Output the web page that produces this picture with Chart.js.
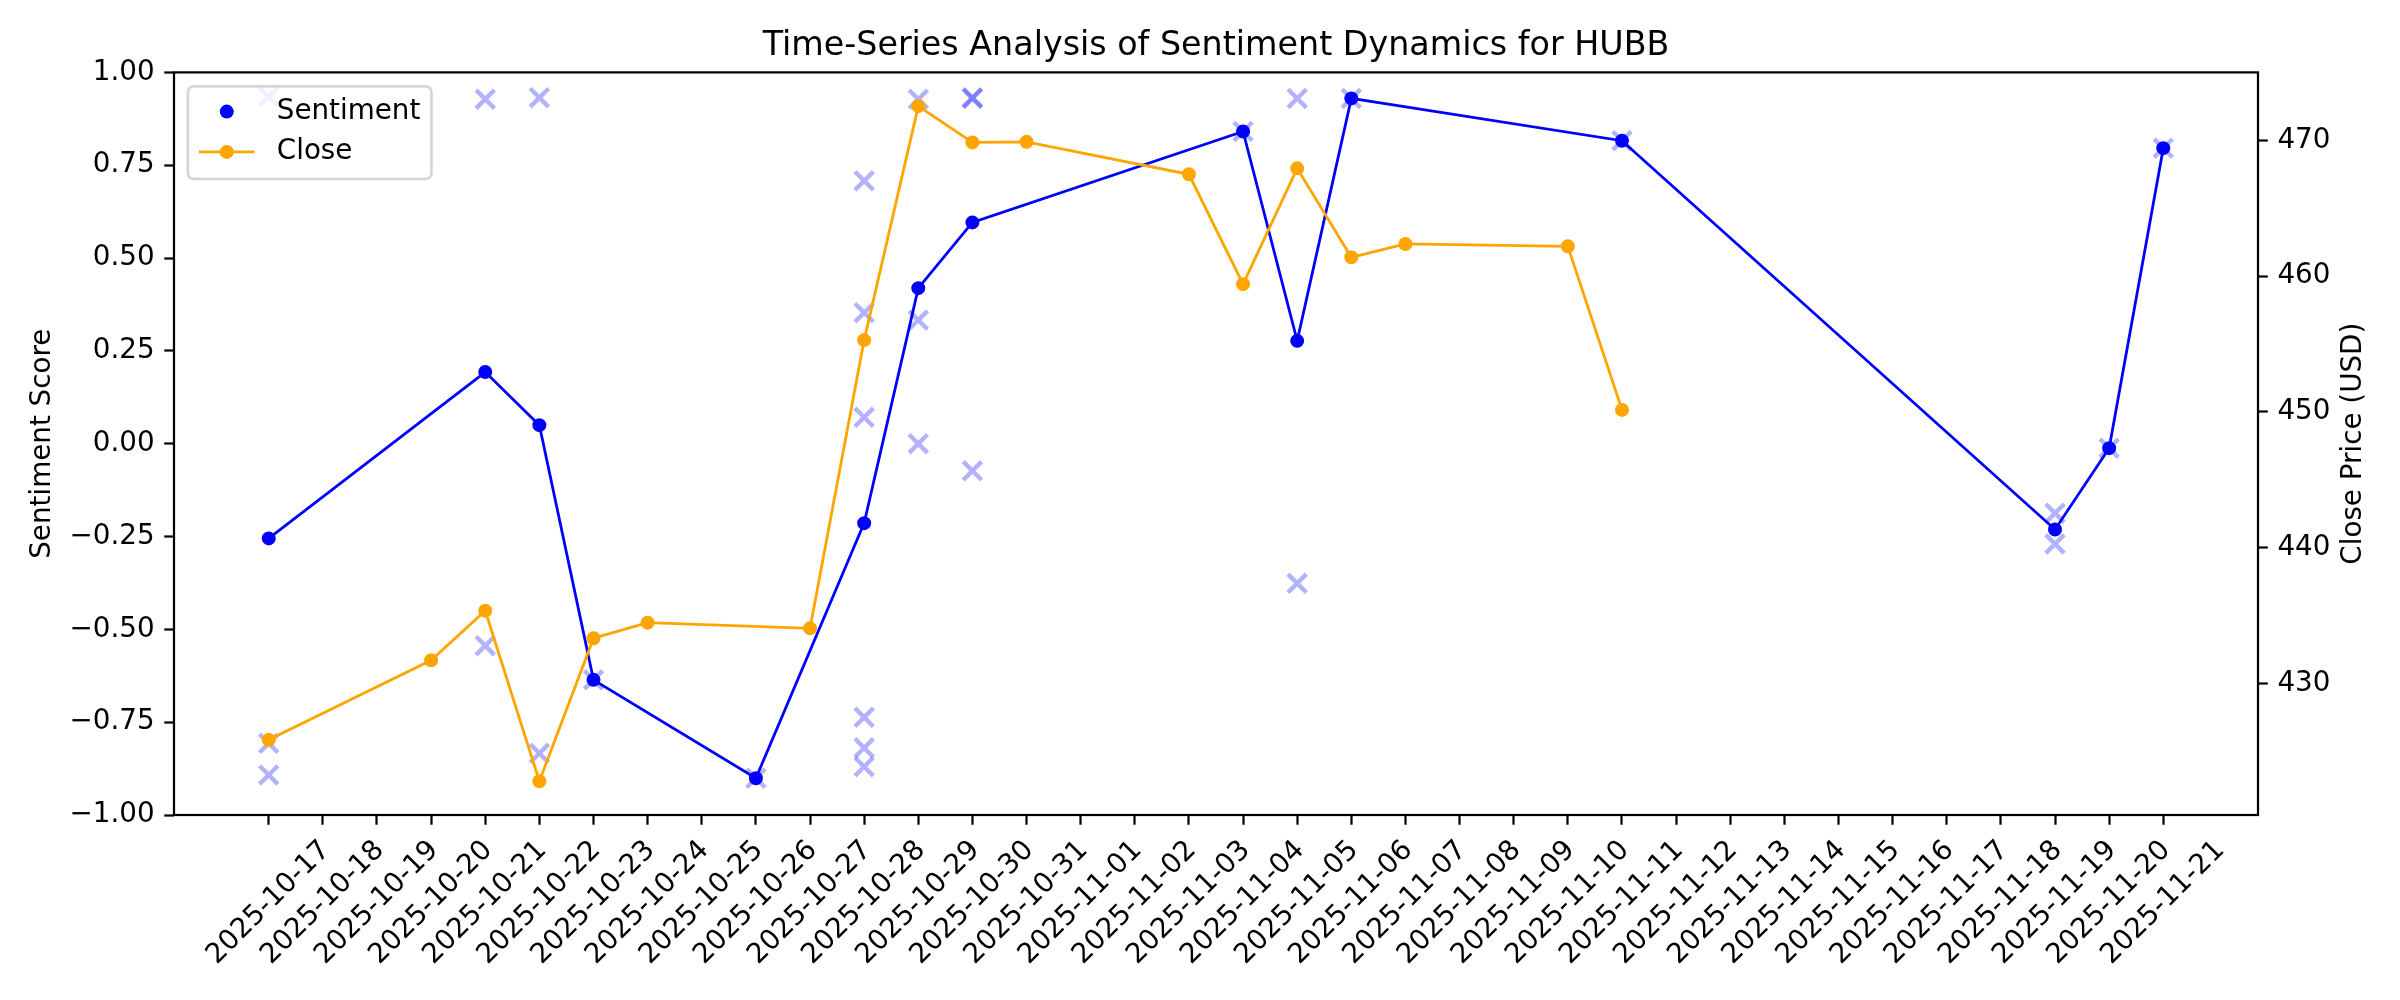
<!DOCTYPE html>
<html lang="en">
<head>
<meta charset="UTF-8">
<title>Sentiment Dynamics for HUBB</title>
<script src="https://cdn.jsdelivr.net/npm/chart.js"></script>
<style>
    body { margin: 0; background: #fff; }
    #wrap { width: 2400px; height: 1000px; }
</style>
</head>
<body>
<div id="wrap"><canvas id="sentChart" width="2400" height="1000"></canvas></div>
<script>
// tick labels for the date axis (one per day)
const dayLabels = [
    '2025-10-17', '2025-10-18', '2025-10-19', '2025-10-20', '2025-10-21', '2025-10-22',
    '2025-10-23', '2025-10-24', '2025-10-25', '2025-10-26', '2025-10-27', '2025-10-28',
    '2025-10-29', '2025-10-30', '2025-10-31', '2025-11-01', '2025-11-02', '2025-11-03',
    '2025-11-04', '2025-11-05', '2025-11-06', '2025-11-07', '2025-11-08', '2025-11-09',
    '2025-11-10', '2025-11-11', '2025-11-12', '2025-11-13', '2025-11-14', '2025-11-15',
    '2025-11-16', '2025-11-17', '2025-11-18', '2025-11-19', '2025-11-20', '2025-11-21'
];

// daily mean sentiment
const sentimentDates = ['2025-10-17', '2025-10-21', '2025-10-22', '2025-10-23', '2025-10-26', '2025-10-28',
    '2025-10-29', '2025-10-30', '2025-11-04', '2025-11-05', '2025-11-06', '2025-11-11',
    '2025-11-19', '2025-11-20', '2025-11-21'];
const sentimentMeans = [-0.255, 0.193, 0.050, -0.636, -0.901, -0.214,
    0.419, 0.596, 0.841, 0.277, 0.930, 0.816,
    -0.231, -0.012, 0.796];

// individual article scores
const rawDates = ['2025-10-17', '2025-10-17', '2025-10-17', '2025-10-21', '2025-10-21', '2025-10-22', '2025-10-22',
    '2025-10-23', '2025-10-26', '2025-10-28', '2025-10-28', '2025-10-28', '2025-10-28', '2025-10-28', '2025-10-28',
    '2025-10-29', '2025-10-29', '2025-10-29', '2025-10-30', '2025-10-30', '2025-10-30', '2025-11-04',
    '2025-11-05', '2025-11-05', '2025-11-06', '2025-11-11', '2025-11-19', '2025-11-19', '2025-11-20', '2025-11-21'];
const rawScores = [0.935, -0.807, -0.892, 0.928, -0.544, 0.932, -0.834,
    -0.636, -0.901, 0.708, 0.353, 0.071, -0.737, -0.819, -0.870,
    0.928, 0.333, 0.000, 0.930, 0.932, -0.073, 0.841,
    0.930, -0.376, 0.930, 0.816, -0.187, -0.270, -0.012, 0.796];

// closing price
const closeDates = ['2025-10-17', '2025-10-20', '2025-10-21', '2025-10-22', '2025-10-23', '2025-10-24',
    '2025-10-27', '2025-10-28', '2025-10-29', '2025-10-30', '2025-10-31', '2025-11-03',
    '2025-11-04', '2025-11-05', '2025-11-06', '2025-11-07', '2025-11-10', '2025-11-11'];
const closeValues = [425.85, 431.71, 435.36, 422.80, 433.33, 434.48,
    434.06, 455.29, 472.52, 469.85, 469.89, 467.50,
    459.41, 467.94, 461.39, 462.37, 462.20, 450.15];

const sentimentTicks = [-1, -0.75, -0.5, -0.25, 0, 0.25, 0.5, 0.75, 1];
const priceTicks = [430, 440, 450, 460, 470];

const PT = 200 / 72;           // pixels per point
const FS = 10 * PT;            // base font size
const FAMILY = '"DejaVu Sans", sans-serif';
const DOT = 7;                 // marker radius incl. edge

Chart.defaults.font.family = FAMILY;
Chart.defaults.color = '#000';

const toPoints = (dates, vals) => dates.map((d, i) => ({ x: dayLabels.indexOf(d), y: vals[i] }));

// axis limits with 5% margins like the original
const lastDay = dayLabels.length - 1;
const xPad = 0.05 * lastDay;
const pMin = Math.min(...closeValues), pMax = Math.max(...closeValues);
const pPad = 0.05 * (pMax - pMin);

const tickGrid = { drawOnChartArea: false, drawTicks: true, tickLength: 3.5 * PT, tickWidth: 0.8 * PT, tickColor: '#000' };

// frame, legend, rotated date labels, right axis title
const decor = {
    id: 'decor',
    afterDatasetsDraw(chart) {
        const ctx = chart.ctx, ca = chart.chartArea;
        ctx.save();
        ctx.strokeStyle = '#000';
        ctx.lineWidth = 0.8 * PT;
        ctx.strokeRect(ca.left, ca.top, ca.right - ca.left, ca.bottom - ca.top);

        // legend box
        ctx.font = FS + 'px ' + FAMILY;
        const tw = Math.max(ctx.measureText('Sentiment').width, ctx.measureText('Close').width);
        const bx = ca.left + 0.5 * FS, by = ca.top + 0.5 * FS;
        const bw = 0.4 * FS * 2 + 2 * FS + 0.8 * FS + tw, bh = 92.6;
        ctx.beginPath();
        ctx.roundRect(bx, by, bw, bh, 0.2 * FS);
        ctx.fillStyle = 'rgba(255,255,255,0.8)';
        ctx.fill();
        ctx.strokeStyle = 'rgba(204,204,204,0.8)';
        ctx.lineWidth = 1 * PT;
        ctx.stroke();

        const hx0 = bx + 0.4 * FS, hx1 = hx0 + 2 * FS, hc = (hx0 + hx1) / 2;
        const tx = hx1 + 0.8 * FS;
        const rows = [by + 25.3, by + 65.6];
        const ds = chart.data.datasets;
        // Sentiment: marker only
        ctx.fillStyle = ds[1].pointBackgroundColor;
        ctx.beginPath(); ctx.arc(hc, rows[0], DOT, 0, Math.PI * 2); ctx.fill();
        // Close: line + marker
        ctx.strokeStyle = ds[0].borderColor;
        ctx.lineWidth = ds[0].borderWidth;
        ctx.beginPath(); ctx.moveTo(hx0, rows[1]); ctx.lineTo(hx1, rows[1]); ctx.stroke();
        ctx.fillStyle = ds[0].pointBackgroundColor;
        ctx.beginPath(); ctx.arc(hc, rows[1], DOT, 0, Math.PI * 2); ctx.fill();

        ctx.fillStyle = '#000';
        ctx.textAlign = 'left';
        ctx.textBaseline = 'middle';
        ctx.fillText('Sentiment', tx, rows[0]);
        ctx.fillText('Close', tx, rows[1]);
        ctx.restore();
    },
    afterDraw(chart) {
        const ctx = chart.ctx, ca = chart.chartArea, xs = chart.scales.x;
        ctx.save();
        ctx.font = FS + 'px ' + FAMILY;
        ctx.fillStyle = '#000';
        ctx.textAlign = 'center';
        ctx.textBaseline = 'middle';
        const top = ca.bottom + 7 * PT;
        xs.ticks.forEach(t => {
            const label = dayLabels[t.value];
            const w = ctx.measureText(label).width;
            const half = (w + 1.164 * FS) * Math.SQRT1_2 / 2;
            ctx.save();
            ctx.translate(xs.getPixelForValue(t.value), top + half);
            ctx.rotate(-Math.PI / 4);
            ctx.fillText(label, 0, 0);
            ctx.restore();
        });
        // right axis title, reading bottom to top
        ctx.translate(2354, (ca.top + ca.bottom) / 2);
        ctx.rotate(-Math.PI / 2);
        ctx.fillText('Close Price (USD)', 0, 0);
        ctx.restore();
    }
};

new Chart(document.getElementById('sentChart'), {
    type: 'line',
    data: {
        datasets: [{
            label: 'Close',
            data: toPoints(closeDates, closeValues),
            yAxisID: 'y2',
            order: 0,
            borderColor: '#FFA500',
            backgroundColor: '#FFA500',
            pointBackgroundColor: '#FFA500',
            pointBorderColor: '#FFA500',
            borderWidth: 2.8,
            pointRadius: DOT - 1,
            pointBorderWidth: 2
        }, {
            label: 'Sentiment',
            data: toPoints(sentimentDates, sentimentMeans),
            yAxisID: 'y',
            order: 1,
            borderColor: '#0000FF',
            backgroundColor: '#0000FF',
            pointBackgroundColor: '#0000FF',
            pointBorderColor: '#0000FF',
            borderWidth: 2.8,
            pointRadius: DOT - 1,
            pointBorderWidth: 2
        }, {
            label: 'Articles',
            data: toPoints(rawDates, rawScores),
            yAxisID: 'y',
            order: 2,
            showLine: false,
            pointStyle: 'crossRot',
            pointRadius: 13,
            pointBorderWidth: 4.4,
            pointBorderColor: 'rgba(0,0,255,0.3)',
            pointBackgroundColor: 'rgba(0,0,255,0.3)'
        }]
    },
    options: {
        responsive: false,
        animation: false,
        events: [],
        devicePixelRatio: 1,
        layout: { padding: 0 },
        plugins: {
            legend: { display: false },
            tooltip: { enabled: false },
            title: {
                display: true,
                fullSize: false,
                text: 'Time-Series Analysis of Sentiment Dynamics for HUBB',
                font: { size: 12 * PT, weight: 'normal' },
                color: '#000',
                padding: { top: 26, bottom: 6.4 }
            }
        },
        scales: {
            x: {
                type: 'linear',
                min: -xPad,
                max: lastDay + xPad,
                afterBuildTicks: s => { s.ticks = dayLabels.map((_, i) => ({ value: i })); },
                afterFit: s => { s.height = 185; },
                ticks: { display: false },
                grid: tickGrid,
                border: { display: false }
            },
            y: {
                position: 'left',
                min: -1,
                max: 1,
                afterBuildTicks: s => { s.ticks = sentimentTicks.map(v => ({ value: v })); },
                afterFit: s => { s.width = 174; },
                ticks: {
                    font: { size: FS },
                    padding: 3.5 * PT,
                    callback: v => v.toFixed(2).replace('-', '\u2212')
                },
                grid: tickGrid,
                border: { display: false },
                title: { display: true, text: 'Sentiment Score', font: { size: FS }, padding: { top: 26, bottom: 0 } }
            },
            y2: {
                position: 'right',
                min: pMin - pPad,
                max: pMax + pPad,
                afterBuildTicks: s => { s.ticks = priceTicks.map(v => ({ value: v })); },
                afterFit: s => { s.width = 142; },
                ticks: { font: { size: FS }, padding: 3.5 * PT, callback: v => String(v) },
                grid: tickGrid,
                border: { display: false }
            }
        }
    },
    plugins: [decor]
});
</script>
</body>
</html>
